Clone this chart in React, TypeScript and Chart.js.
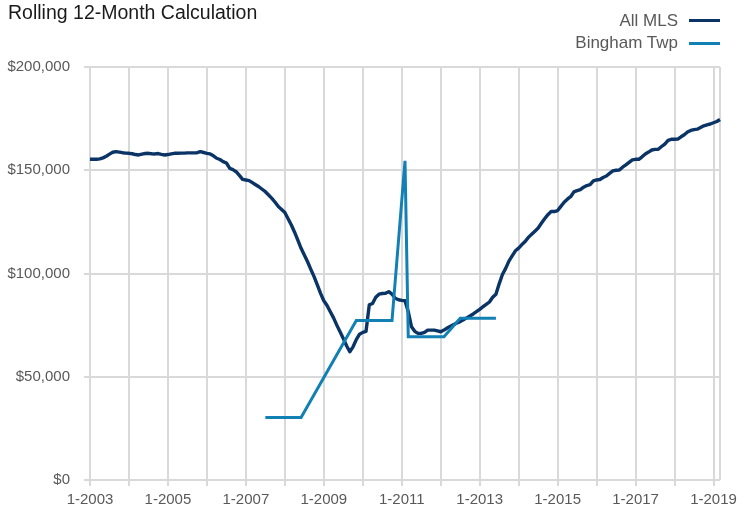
import React, { useEffect, useRef } from "react";
import { Chart, registerables } from "chart.js";

Chart.register(...registerables);

const FONT = "'Liberation Sans', Arial, sans-serif";

const TITLE = "Rolling 12-Month Calculation";
const SERIES_NAMES = ["All MLS", "Bingham Twp"];
const SERIES_COLORS = ["#0a3366", "#1180b5"];

// Monthly categories 1-2003 ... 3-2019
const FIRST_YEAR = 2003;
const MONTH_COUNT = 195;
const categories: string[] = [];
for (let i = 0; i < MONTH_COUNT; i++) {
  categories.push(`${(i % 12) + 1}-${FIRST_YEAR + Math.floor(i / 12)}`);
}

const yTicks = [0, 50000, 100000, 150000, 200000];

const allMls: number[] = [
  // 2003
  155300, 155300, 155300, 155500, 156000, 156800, 157800, 158700, 159000, 158800, 158500, 158300,
  // 2004
  158200, 158000, 157600, 157400, 157800, 158100, 158200, 158000, 157900, 158100, 157700, 157400,
  // 2005
  157600, 157900, 158200, 158200, 158300, 158300, 158400, 158400, 158400, 158500, 159000, 158600,
  // 2006
  158200, 157900, 157000, 155800, 155200, 154200, 153500, 151000, 150300, 149300, 147500, 145600,
  // 2007
  145300, 145000, 144000, 143000, 142000, 140800, 139600, 138000, 136400, 134500, 132400, 131000,
  // 2008
  129500, 126500, 123500, 120000, 116200, 112200, 109000, 105700, 102000, 98500, 94500, 90400,
  // 2009
  86800, 84500, 81500, 78500, 75000, 71800, 68500, 65000, 62100, 64500, 68000, 70600,
  // 2010
  71500, 72000, 84800, 85500, 88500, 90000, 90300, 90400, 91200, 90000, 88000, 87300,
  // 2011
  87000, 86800, 81500, 74200, 72000, 71000, 71000, 71500, 72600, 72600, 72600, 72200,
  // 2012
  71800, 72600, 73600, 74500, 75300, 76000, 76700, 77600, 78500, 79400, 80400, 81500,
  // 2013
  82600, 83900, 85000, 86200, 88500, 90000, 95000, 99500, 102500, 106000, 108500, 111000,
  // 2014
  112300, 114000, 115500, 117500, 119000, 120500, 122000, 124300, 126500, 128500, 130000, 130000,
  // 2015
  130500, 132500, 134500, 136000, 137200, 139500, 140100, 140600, 141800, 142600, 143000, 144800,
  // 2016
  145300, 145500, 146500, 147200, 148500, 149700, 150000, 150100, 151500, 152600, 153800, 155000,
  // 2017
  155300, 155300, 156500, 157900, 158800, 159800, 160100, 160200, 161500, 162700, 164500, 165000,
  // 2018
  165000, 165100, 166200, 167200, 168500, 169300, 169700, 169900, 170700, 171500, 172000, 172400,
  // 2019
  173000, 173600, 174600,
];

const N = null;
const binghamTwp: (number | null)[] = [
  // 2003
  N, N, N, N, N, N, N, N, N, N, N, N,
  // 2004
  N, N, N, N, N, N, N, N, N, N, N, N,
  // 2005
  N, N, N, N, N, N, N, N, N, N, N, N,
  // 2006
  N, N, N, N, N, N, N, N, N, N, N, N,
  // 2007
  N, N, N, N, N, N, 30300, 30300, 30300, 30300, 30300, 30300,
  // 2008
  30300, 30300, 30300, 30300, 30300, 30300, N, N, N, N, N, N,
  // 2009
  N, N, N, N, N, N, N, N, N, N, 77200, 77200,
  // 2010
  77200, 77200, 77200, 77200, 77200, 77200, 77200, 77200, 77200, 77200, N, N,
  // 2011
  N, 154600, 69400, 69400, 69400, 69400, 69400, 69400, 69400, 69400, 69400, 69400,
  // 2012
  69400, 69400, N, N, N, N, 78300, 78300, 78300, 78300, 78300, 78300,
  // 2013
  78300, 78300, 78300, 78300, 78300, 78300, N, N, N, N, N, N,
  // 2014
  N, N, N, N, N, N, N, N, N, N, N, N,
  // 2015
  N, N, N, N, N, N, N, N, N, N, N, N,
  // 2016
  N, N, N, N, N, N, N, N, N, N, N, N,
  // 2017
  N, N, N, N, N, N, N, N, N, N, N, N,
  // 2018
  N, N, N, N, N, N, N, N, N, N, N, N,
  // 2019
  N, N, N,
];

const GRID = "#d9d9d9";
const TICK_TEXT = "#595959";

const rightBorder = {
  id: "rightBorder",
  beforeDatasetsDraw(chart: any) {
    const { ctx, chartArea } = chart;
    ctx.save();
    ctx.strokeStyle = GRID;
    ctx.lineWidth = 2;
    ctx.beginPath();
    ctx.moveTo(chartArea.right, chartArea.top);
    ctx.lineTo(chartArea.right, chartArea.bottom);
    ctx.stroke();
    ctx.restore();
  },
};

export default function App() {
  const ref = useRef<HTMLCanvasElement | null>(null);

  useEffect(() => {
    if (!ref.current) return;
    const chart = new Chart(ref.current, {
      type: "line",
      data: {
        labels: categories,
        datasets: [
          {
            label: SERIES_NAMES[1],
            data: binghamTwp,
            borderColor: SERIES_COLORS[1],
            backgroundColor: SERIES_COLORS[1],
            borderWidth: 3,
            pointRadius: 0,
            tension: 0,
            spanGaps: true,
            order: 0,
          },
          {
            label: SERIES_NAMES[0],
            data: allMls,
            borderColor: SERIES_COLORS[0],
            backgroundColor: SERIES_COLORS[0],
            borderWidth: 3.4,
            pointRadius: 0,
            tension: 0,
            borderJoinStyle: "round",
            order: 1,
          },
        ],
      },
      options: {
        responsive: false,
        animation: false,
        devicePixelRatio: 1,
        layout: { padding: { top: 67, right: 18, left: 0, bottom: 0 } },
        plugins: {
          legend: { display: false },
          title: { display: false },
          tooltip: { enabled: false },
        },
        scales: {
          x: {
            type: "category",
            border: { display: false },
            grid: {
              lineWidth: 2,
              tickLength: 6,
              color: (c: any) => (c.index % 12 === 0 ? GRID : "rgba(0,0,0,0)"),
            },
            ticks: {
              autoSkip: false,
              maxRotation: 0,
              minRotation: 0,
              padding: 5,
              color: TICK_TEXT,
              font: { family: FONT, size: 15 },
              callback: (_v: any, i: number) => (i % 24 === 0 ? categories[i] : ""),
            },
            afterFit: (s: any) => {
              s.height = 35;
            },
          },
          y: {
            min: yTicks[0],
            max: yTicks[yTicks.length - 1],
            border: { display: false },
            grid: { color: GRID, lineWidth: 2, tickLength: 6 },
            afterBuildTicks: (s: any) => {
              s.ticks = yTicks.map((v) => ({ value: v }));
            },
            ticks: {
              padding: 14,
              color: TICK_TEXT,
              font: { family: FONT, size: 15 },
              callback: (v: any) => "$" + Number(v).toLocaleString("en-US"),
            },
            afterFit: (s: any) => {
              s.width = 90;
            },
          },
        },
      },
      plugins: [rightBorder],
    } as any);
    return () => chart.destroy();
  }, []);

  const legendRow = (name: string, color: string, top: number) => (
    <div
      key={name}
      style={{
        position: "absolute",
        right: 18,
        top,
        height: 22,
        display: "flex",
        alignItems: "center",
        fontFamily: FONT,
        fontSize: 17,
        color: TICK_TEXT,
        whiteSpace: "nowrap",
      }}
    >
      <span>{name}</span>
      <span
        style={{
          display: "inline-block",
          width: 31,
          height: 3,
          marginLeft: 11,
          background: color,
        }}
      />
    </div>
  );

  return (
    <div style={{ position: "absolute", left: 0, top: 0, width: 738, height: 515 }}>
      <canvas ref={ref} width={738} height={515} style={{ position: "absolute", left: 0, top: 0, width: 738, height: 515 }} />
      <div
        style={{
          position: "absolute",
          left: 8,
          top: 0,
          fontFamily: FONT,
          fontSize: 19.5,
          color: "#1a1a1a",
          whiteSpace: "nowrap",
          lineHeight: "24px",
        }}
      >
        {TITLE}
      </div>
      {legendRow(SERIES_NAMES[0], SERIES_COLORS[0], 9.5)}
      {legendRow(SERIES_NAMES[1], SERIES_COLORS[1], 32)}
    </div>
  );
}
